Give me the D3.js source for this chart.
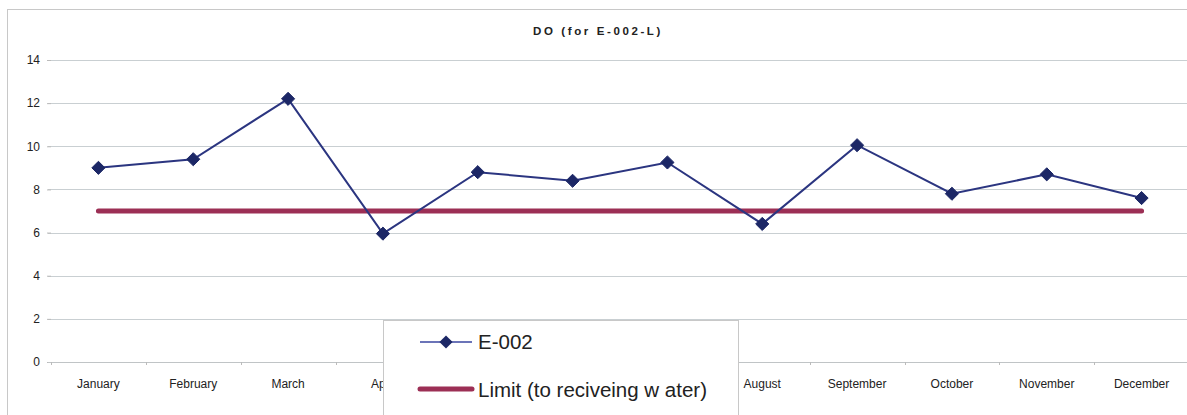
<!DOCTYPE html>
<html><head><meta charset="utf-8">
<script src="https://cdn.jsdelivr.net/npm/d3@7/dist/d3.min.js"></script>
<style>body{margin:0;background:#fff;} svg{display:block;font-family:"Liberation Sans",Arial,sans-serif;}</style>
</head><body>
<svg id="c" width="1187" height="415"></svg>
<script>
const months = ["January","February","March","April","May","June","July","August","September","October","November","December"];
const e002 = [9.0, 9.4, 12.2, 5.95, 8.8, 8.4, 9.25, 6.4, 10.05, 7.8, 8.7, 7.6];
const limit = [7,7,7,7,7,7,7,7,7,7,7,7];
const yTicks = [0,2,4,6,8,10,12,14];
const seriesNames = ["E-002","Limit (to reciveing w ater)"];
const title = "DO (for E-002-L)";

const svg = d3.select("#c");
const L = 51, R = 1189, T = 60, B = 362;
const x = d3.scaleBand().domain(months).range([L, R]);
const y = d3.scaleLinear().domain([0,14]).range([B, T]);
const cx = m => x(m) + x.bandwidth()/2;

// outer chart border
svg.append("rect").attr("x",7.5).attr("y",9.5).attr("width",1200).attr("height",440)
  .attr("fill","none").attr("stroke","#c8c8c8").attr("stroke-width",1);

// title
svg.append("text").attr("x",598).attr("y",35).attr("text-anchor","middle")
  .attr("font-size",11.5).attr("font-weight","bold").attr("letter-spacing","2.6px").attr("fill","#222").text(title);

// gridlines
svg.append("g").selectAll("line").data(yTicks.filter(d=>d>0)).join("line")
  .attr("x1",L-3).attr("x2",R).attr("y1",d=>Math.round(y(d))+0.5).attr("y2",d=>Math.round(y(d))+0.5)
  .attr("stroke","#c9cfd2").attr("stroke-width",1);

// y axis
const ya = svg.append("g").attr("transform",`translate(${L},0)`)
  .call(d3.axisLeft(y).tickValues(yTicks).tickSize(4).tickPadding(7));
ya.select(".domain").remove();
ya.selectAll(".tick line").attr("stroke","#bbb");
ya.selectAll("text").attr("font-size",12).attr("fill","#222").attr("font-family","Liberation Sans, Arial, sans-serif");

// x axis
const xa = svg.append("g").attr("transform",`translate(0,${B})`)
  .call(d3.axisBottom(x).tickSize(0).tickPadding(17));
xa.select(".domain").attr("stroke","#c0c4c6").attr("d",`M${L-3},0.5H${R}`);
xa.selectAll("text").attr("font-size",12).attr("fill","#222").attr("font-family","Liberation Sans, Arial, sans-serif");
svg.append("g").selectAll("line").data(months).join("line")
  .attr("x1",d=>Math.round(x(d))+0.5).attr("x2",d=>Math.round(x(d))+0.5)
  .attr("y1",B).attr("y2",B+3).attr("stroke","#bbb");

// limit line
const line = d3.line().x((d,i)=>cx(months[i])).y(d=>y(d));
svg.append("path").datum(limit).attr("d",line).attr("fill","none")
  .attr("stroke","#9c2f55").attr("stroke-width",5).attr("stroke-linecap","round");

// series
svg.append("path").datum(e002).attr("d",line).attr("fill","none")
  .attr("stroke","#2b3580").attr("stroke-width",2);
const diamond = d3.symbol().type(d3.symbolDiamond2).size(110);
svg.append("g").selectAll("path").data(e002).join("path")
  .attr("d",diamond).attr("transform",(d,i)=>`translate(${cx(months[i])},${y(d)})`)
  .attr("fill","#1c2766").attr("stroke","#1c2766").attr("stroke-width",1);

// legend
const lg = svg.append("g");
lg.append("rect").attr("x",383.5).attr("y",320.5).attr("width",355).attr("height",120)
  .attr("fill","#fff").attr("stroke","#c8c8c8");
lg.append("line").attr("x1",420).attr("x2",472).attr("y1",342).attr("y2",342).attr("stroke","#3a46a0").attr("stroke-width",1.5);
lg.append("path").attr("d",diamond).attr("transform","translate(446,342)").attr("fill","#1c2766");
lg.append("text").attr("x",478).attr("y",349).attr("font-size",20.5).attr("fill","#222").text(seriesNames[0]);
lg.append("line").attr("x1",420).attr("x2",472).attr("y1",389).attr("y2",389).attr("stroke","#9c2f55").attr("stroke-width",5).attr("stroke-linecap","round");
lg.append("text").attr("x",478).attr("y",397).attr("font-size",20.5).attr("fill","#222").text(seriesNames[1]);
</script>
</body></html>
